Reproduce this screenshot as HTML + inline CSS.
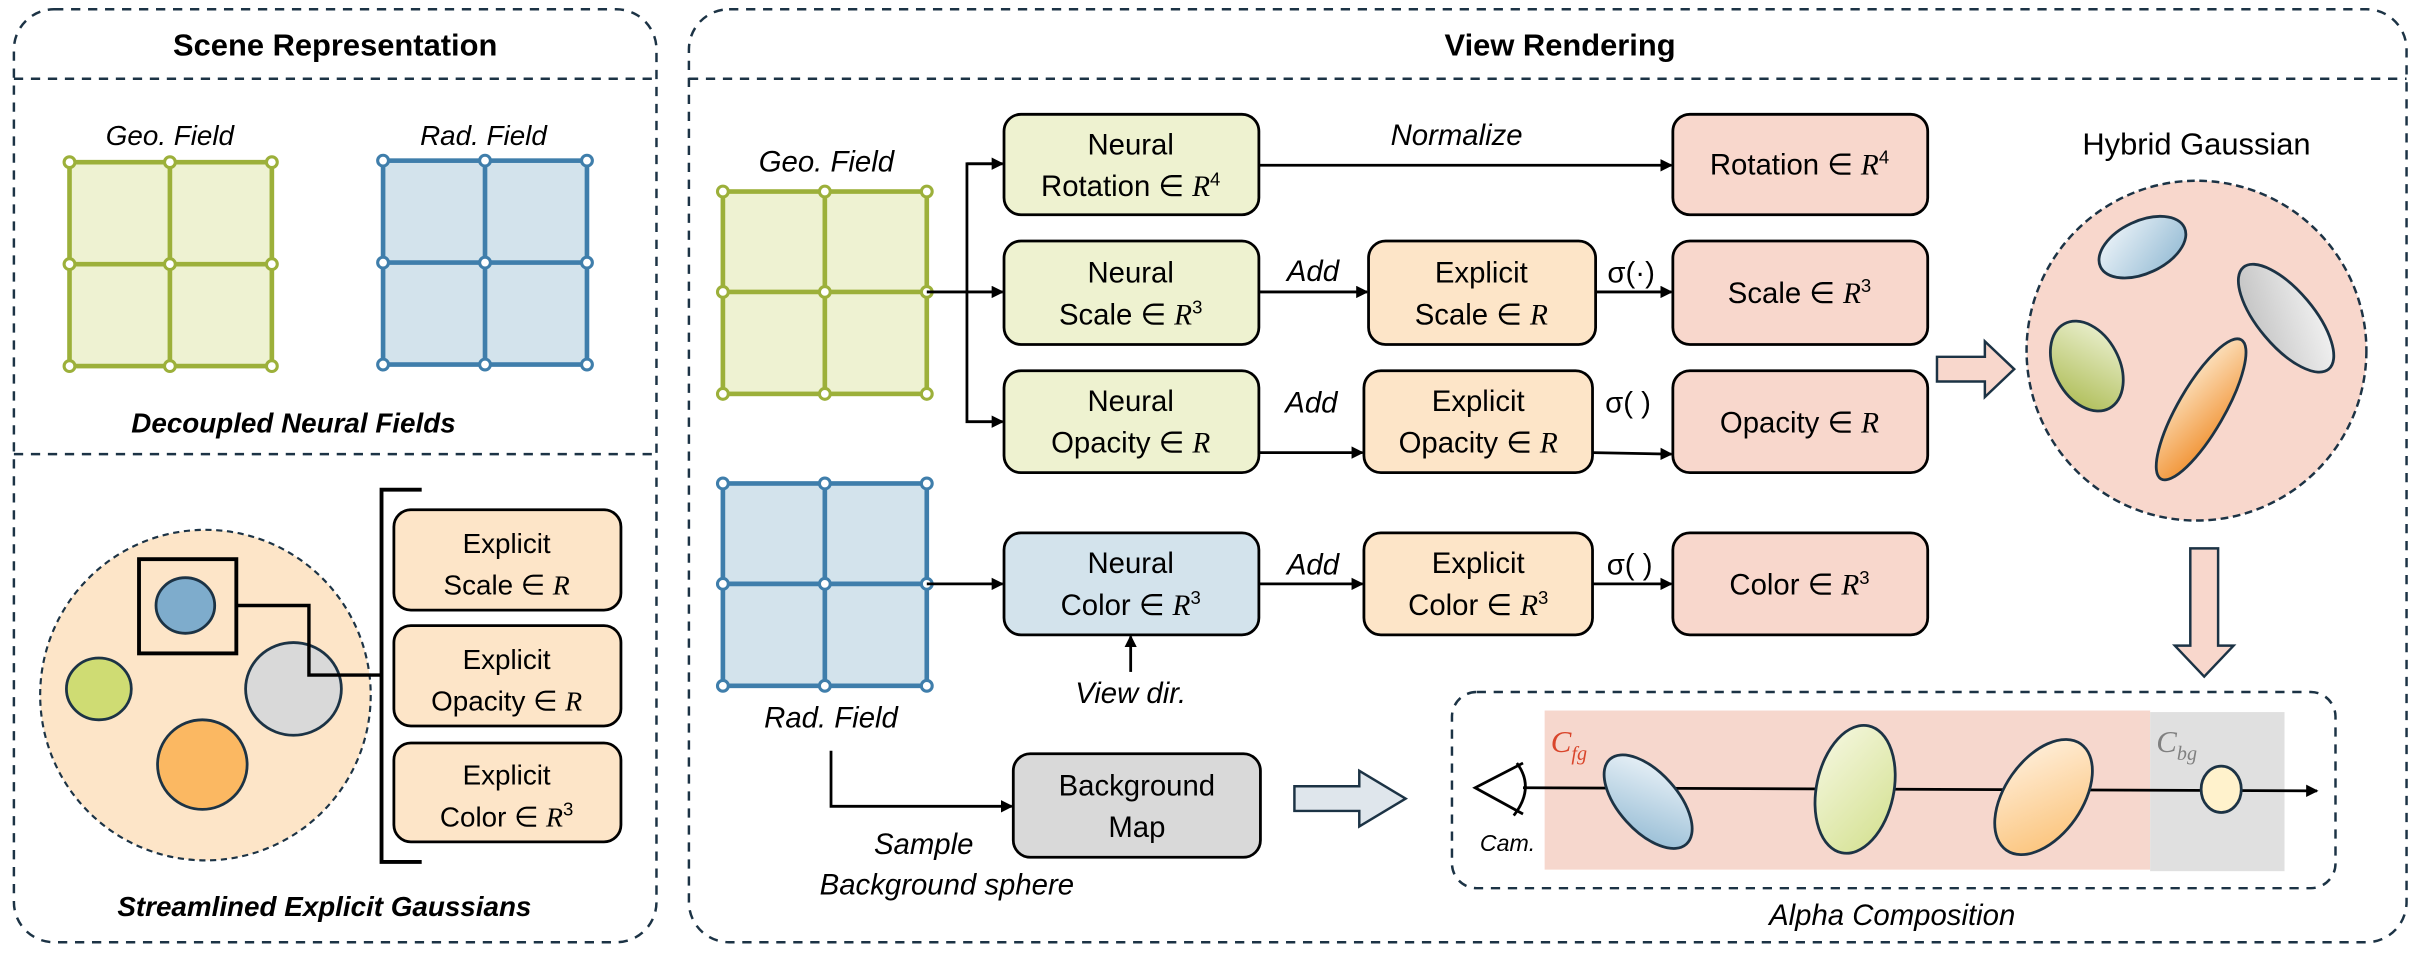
<!DOCTYPE html>
<html><head><meta charset="utf-8"><style>
html,body{margin:0;padding:0;background:#fff;}
svg{display:block;}
text{font-family:"Liberation Sans",sans-serif;fill:#000;}
.n{font-family:"Liberation Sans Narrow","Liberation Sans",sans-serif;font-size:19px;text-anchor:middle;}
.i{font-style:italic;}
.m{font-family:"Liberation Serif",serif;font-style:italic;}
</style></head><body>
<svg width="2422" height="960" viewBox="0 0 1568 621.5" preserveAspectRatio="none" xmlns="http://www.w3.org/2000/svg">
<defs>
<marker id="a" markerWidth="8" markerHeight="8" refX="7" refY="4" orient="auto" markerUnits="userSpaceOnUse"><path d="M0,0 L8,4 L0,8 z" fill="#000"/></marker>
<linearGradient id="gb" x1="0" y1="0" x2="1" y2="1"><stop offset="0" stop-color="#f2f7fb"/><stop offset="1" stop-color="#8fb8d2"/></linearGradient>
<linearGradient id="gg" x1="0" y1="0" x2="1" y2="1"><stop offset="0" stop-color="#f1f5dc"/><stop offset="1" stop-color="#a8b84a"/></linearGradient>
<linearGradient id="gy" x1="1" y1="0" x2="0" y2="1"><stop offset="0" stop-color="#f8f8f8"/><stop offset="1" stop-color="#bdbdbd"/></linearGradient>
<linearGradient id="go" x1="1" y1="0" x2="0" y2="1"><stop offset="0" stop-color="#fdebd0"/><stop offset="1" stop-color="#f08a24"/></linearGradient>
<linearGradient id="gg2" x1="1" y1="0" x2="0" y2="1"><stop offset="0" stop-color="#f6f8e2"/><stop offset="1" stop-color="#d3e08e"/></linearGradient>
<linearGradient id="go2" x1="1" y1="0" x2="0" y2="1"><stop offset="0" stop-color="#fff3e4"/><stop offset="1" stop-color="#fbbf70"/></linearGradient>
</defs>

<!-- LEFT PANEL -->
<rect x="9" y="6" width="416" height="604" rx="26" fill="none" stroke="#1c3345" stroke-width="1.6" stroke-dasharray="6,5"/>
<text x="217" y="36" font-size="20" font-weight="bold" text-anchor="middle">Scene Representation</text>
<line x1="9" y1="51" x2="425" y2="51" stroke="#1c3345" stroke-width="1.6" stroke-dasharray="6,5"/>
<text x="110" y="94" font-size="18" class="i" text-anchor="middle">Geo.  Field</text>
<text x="313" y="94" font-size="18" class="i" text-anchor="middle">Rad. Field</text>
<g stroke="#9cb03a" stroke-width="3" fill="#eef2d2">
<rect x="45" y="105" width="131" height="132"/><line x1="110" y1="105" x2="110" y2="237"/><line x1="45" y1="171" x2="176" y2="171"/>
</g>
<g fill="#fff" stroke="#9cb03a" stroke-width="2">
<circle cx="45" cy="105" r="3.5"/><circle cx="110" cy="105" r="3.5"/><circle cx="176" cy="105" r="3.5"/>
<circle cx="45" cy="171" r="3.5"/><circle cx="110" cy="171" r="3.5"/><circle cx="176" cy="171" r="3.5"/>
<circle cx="45" cy="237" r="3.5"/><circle cx="110" cy="237" r="3.5"/><circle cx="176" cy="237" r="3.5"/>
</g>
<g stroke="#3f7eab" stroke-width="3" fill="#d3e3ec">
<rect x="248" y="104" width="132" height="132"/><line x1="314" y1="104" x2="314" y2="236"/><line x1="248" y1="170" x2="380" y2="170"/>
</g>
<g fill="#fff" stroke="#3f7eab" stroke-width="2">
<circle cx="248" cy="104" r="3.5"/><circle cx="314" cy="104" r="3.5"/><circle cx="380" cy="104" r="3.5"/>
<circle cx="248" cy="170" r="3.5"/><circle cx="314" cy="170" r="3.5"/><circle cx="380" cy="170" r="3.5"/>
<circle cx="248" cy="236" r="3.5"/><circle cx="314" cy="236" r="3.5"/><circle cx="380" cy="236" r="3.5"/>
</g>
<text x="190" y="280" font-size="18" font-weight="bold" class="i" text-anchor="middle">Decoupled Neural Fields</text>
<line x1="9" y1="294" x2="425" y2="294" stroke="#1c3345" stroke-width="1.6" stroke-dasharray="6,5"/>

<ellipse cx="133" cy="450" rx="107" ry="107" fill="#fde5c8" stroke="#1c3345" stroke-width="1.4" stroke-dasharray="4,3"/>
<rect x="90" y="362" width="63" height="61" fill="none" stroke="#000" stroke-width="2.5"/>
<ellipse cx="120" cy="392" rx="19" ry="18" fill="#7eaccc" stroke="#1c3345" stroke-width="1.8"/>
<ellipse cx="64" cy="446" rx="21" ry="20" fill="#cfdc73" stroke="#1c3345" stroke-width="1.8"/>
<ellipse cx="190" cy="446" rx="31" ry="30" fill="#d9d9d9" stroke="#1c3345" stroke-width="1.8"/>
<ellipse cx="131" cy="495" rx="29" ry="29" fill="#fbb862" stroke="#1c3345" stroke-width="1.8"/>
<polyline points="153,392 200,392 200,437 247,437" fill="none" stroke="#000" stroke-width="2.2"/>
<path d="M273,317 L247,317 L247,558 L273,558" fill="none" stroke="#000" stroke-width="2.5"/>
<g fill="#fde5c8" stroke="#000" stroke-width="1.8">
<rect x="255" y="330" width="147" height="65" rx="11"/>
<rect x="255" y="405" width="147" height="65" rx="11"/>
<rect x="255" y="481" width="147" height="64" rx="11"/>
</g>
<text x="328" y="358" font-size="18" text-anchor="middle">Explicit</text>
<text x="328" y="385" font-size="18" text-anchor="middle">Scale ∈ <tspan class="m">R</tspan></text>
<text x="328" y="433" font-size="18" text-anchor="middle">Explicit</text>
<text x="328" y="460" font-size="18" text-anchor="middle">Opacity ∈ <tspan class="m">R</tspan></text>
<text x="328" y="508" font-size="18" text-anchor="middle">Explicit</text>
<text x="328" y="535" font-size="18" text-anchor="middle">Color ∈ <tspan class="m">R</tspan><tspan font-size="12" dy="-7">3</tspan></text>
<text x="210" y="593" font-size="18" font-weight="bold" class="i" text-anchor="middle">Streamlined Explicit Gaussians</text>

<!-- RIGHT PANEL -->
<rect x="446" y="6" width="1112" height="604" rx="26" fill="none" stroke="#1c3345" stroke-width="1.6" stroke-dasharray="6,5"/>
<text x="1010" y="36" font-size="20" font-weight="bold" text-anchor="middle">View Rendering</text>
<line x1="446" y1="51" x2="1558" y2="51" stroke="#1c3345" stroke-width="1.6" stroke-dasharray="6,5"/>

<text x="535" y="111" class="n i">Geo.  Field</text>
<g stroke="#9cb03a" stroke-width="3" fill="#eef2d2">
<rect x="468" y="124" width="132" height="131"/><line x1="534" y1="124" x2="534" y2="255"/><line x1="468" y1="189" x2="600" y2="189"/>
</g>
<g fill="#fff" stroke="#9cb03a" stroke-width="2">
<circle cx="468" cy="124" r="3.5"/><circle cx="534" cy="124" r="3.5"/><circle cx="600" cy="124" r="3.5"/>
<circle cx="468" cy="189" r="3.5"/><circle cx="534" cy="189" r="3.5"/><circle cx="600" cy="189" r="3.5"/>
<circle cx="468" cy="255" r="3.5"/><circle cx="534" cy="255" r="3.5"/><circle cx="600" cy="255" r="3.5"/>
</g>
<g stroke="#3f7eab" stroke-width="3" fill="#d3e3ec">
<rect x="468" y="313" width="132" height="131"/><line x1="534" y1="313" x2="534" y2="444"/><line x1="468" y1="378" x2="600" y2="378"/>
</g>
<g fill="#fff" stroke="#3f7eab" stroke-width="2">
<circle cx="468" cy="313" r="3.5"/><circle cx="534" cy="313" r="3.5"/><circle cx="600" cy="313" r="3.5"/>
<circle cx="468" cy="378" r="3.5"/><circle cx="534" cy="378" r="3.5"/><circle cx="600" cy="378" r="3.5"/>
<circle cx="468" cy="444" r="3.5"/><circle cx="534" cy="444" r="3.5"/><circle cx="600" cy="444" r="3.5"/>
</g>
<text x="538" y="471" class="n i">Rad. Field</text>

<!-- connectors -->
<g stroke="#000" stroke-width="1.8" fill="none">
<line x1="600" y1="189" x2="626" y2="189"/>
<polyline points="649,106 626,106 626,273 649,273" marker-end="url(#a)"/>
<line x1="626" y1="106" x2="649" y2="106" marker-end="url(#a)"/>
<line x1="626" y1="189" x2="649" y2="189" marker-end="url(#a)"/>
<line x1="600" y1="378" x2="649" y2="378" marker-end="url(#a)"/>
<line x1="815" y1="107" x2="1082" y2="107" marker-end="url(#a)"/>
<line x1="815" y1="189" x2="885" y2="189" marker-end="url(#a)"/>
<line x1="1033" y1="189" x2="1082" y2="189" marker-end="url(#a)"/>
<line x1="815" y1="293" x2="882" y2="293" marker-end="url(#a)"/>
<line x1="1031" y1="293" x2="1082" y2="294" marker-end="url(#a)"/>
<line x1="815" y1="378" x2="882" y2="378" marker-end="url(#a)"/>
<line x1="1031" y1="378" x2="1082" y2="378" marker-end="url(#a)"/>
<line x1="732" y1="435" x2="732" y2="412" marker-end="url(#a)"/>
<polyline points="538,486 538,522 655,522" marker-end="url(#a)"/>
</g>

<!-- boxes -->
<g stroke="#000" stroke-width="1.8">
<rect x="650" y="74" width="165" height="65" rx="11" fill="#eef2d0"/>
<rect x="650" y="156" width="165" height="67" rx="11" fill="#eef2d0"/>
<rect x="650" y="240" width="165" height="66" rx="11" fill="#eef2d0"/>
<rect x="650" y="345" width="165" height="66" rx="11" fill="#d3e3ec"/>
<rect x="886" y="156" width="147" height="67" rx="11" fill="#fde5c8"/>
<rect x="883" y="240" width="148" height="66" rx="11" fill="#fde5c8"/>
<rect x="883" y="345" width="148" height="66" rx="11" fill="#fde5c8"/>
<rect x="1083" y="74" width="165" height="65" rx="11" fill="#f8d7cc"/>
<rect x="1083" y="156" width="165" height="67" rx="11" fill="#f8d7cc"/>
<rect x="1083" y="240" width="165" height="66" rx="11" fill="#f8d7cc"/>
<rect x="1083" y="345" width="165" height="66" rx="11" fill="#f8d7cc"/>
<rect x="656" y="488" width="160" height="67" rx="11" fill="#d9d9d9"/>
</g>
<text x="732" y="100" class="n">Neural</text>
<text x="732" y="127" class="n">Rotation ∈ <tspan class="m">R</tspan><tspan font-size="12" dy="-7">4</tspan></text>
<text x="732" y="183" class="n">Neural</text>
<text x="732" y="210" class="n">Scale ∈ <tspan class="m">R</tspan><tspan font-size="12" dy="-7">3</tspan></text>
<text x="732" y="266" class="n">Neural</text>
<text x="732" y="293" class="n">Opacity ∈ <tspan class="m">R</tspan></text>
<text x="732" y="371" class="n">Neural</text>
<text x="732" y="398" class="n">Color ∈ <tspan class="m">R</tspan><tspan font-size="12" dy="-7">3</tspan></text>
<text x="959" y="183" class="n">Explicit</text>
<text x="959" y="210" class="n">Scale ∈ <tspan class="m">R</tspan></text>
<text x="957" y="266" class="n">Explicit</text>
<text x="957" y="293" class="n">Opacity ∈ <tspan class="m">R</tspan></text>
<text x="957" y="371" class="n">Explicit</text>
<text x="957" y="398" class="n">Color ∈ <tspan class="m">R</tspan><tspan font-size="12" dy="-7">3</tspan></text>
<text x="1165" y="113" class="n">Rotation ∈ <tspan class="m">R</tspan><tspan font-size="12" dy="-7">4</tspan></text>
<text x="1165" y="196" class="n">Scale ∈ <tspan class="m">R</tspan><tspan font-size="12" dy="-7">3</tspan></text>
<text x="1165" y="280" class="n">Opacity ∈ <tspan class="m">R</tspan></text>
<text x="1165" y="385" class="n">Color ∈ <tspan class="m">R</tspan><tspan font-size="12" dy="-7">3</tspan></text>
<text x="736" y="515" class="n">Background</text>
<text x="736" y="542" class="n">Map</text>

<text x="943" y="94" class="n i">Normalize</text>
<text x="850" y="182" class="n i">Add</text>
<text x="849" y="267" class="n i">Add</text>
<text x="850" y="372" class="n i">Add</text>
<text x="1056" y="183" class="n">σ(·)</text>
<text x="1054" y="267" class="n">σ( )</text>
<text x="1055" y="372" class="n">σ( )</text>
<text x="732" y="455" class="n i">View dir.</text>
<text x="598" y="553" class="n i">Sample</text>
<text x="613" y="579" class="n i">Background sphere</text>

<!-- hybrid gaussian -->
<text x="1422" y="100" font-size="20" text-anchor="middle">Hybrid Gaussian</text>
<circle cx="1422" cy="227" r="110" fill="#f8d7cc" stroke="#1c3345" stroke-width="1.6" stroke-dasharray="5,3"/>
<g stroke="#1c3345" stroke-width="1.8">
<ellipse cx="1387" cy="160" rx="30" ry="17" transform="rotate(-25 1387 160)" fill="url(#gb)"/>
<ellipse cx="1480" cy="206" rx="43" ry="18" transform="rotate(50 1480 206)" fill="url(#gy)"/>
<ellipse cx="1351" cy="237" rx="31" ry="21" transform="rotate(62 1351 237)" fill="url(#gg)"/>
<ellipse cx="1425" cy="265" rx="52" ry="15" transform="rotate(-60 1425 265)" fill="url(#go)"/>
</g>
<path d="M1254,231 L1285,231 L1285,221 L1304,239 L1285,257 L1285,247 L1254,247 z" fill="#f8d7cc" stroke="#1c3345" stroke-width="1.6"/>
<path d="M1418,355 L1436,355 L1436,418 L1446,418 L1427,438 L1408,418 L1418,418 z" fill="#f8d7cc" stroke="#1c3345" stroke-width="1.6"/>
<path d="M838,509 L880,509 L880,499 L910,517 L880,535 L880,525 L838,525 z" fill="#dfe6ec" stroke="#1c3345" stroke-width="1.6"/>

<!-- alpha composition -->
<rect x="940" y="448" width="572" height="127" rx="16" fill="none" stroke="#1c3345" stroke-width="1.6" stroke-dasharray="6,5"/>
<rect x="1000" y="460" width="392" height="103" fill="#f6d7cd"/>
<rect x="1392" y="461" width="87" height="103" fill="#e0e0e0"/>
<text x="1004" y="487" font-size="20" class="m" style="fill:#d9452b">C<tspan font-size="13" dy="5">fg</tspan></text>
<text x="1396" y="487" font-size="20" class="m" style="fill:#808080">C<tspan font-size="13" dy="5">bg</tspan></text>
<line x1="986" y1="510" x2="1500" y2="512" stroke="#000" stroke-width="1.8" marker-end="url(#a)"/>
<path d="M986,494 L955,510 L986,527" fill="none" stroke="#000" stroke-width="1.8"/>
<path d="M982,494 Q994,510 980,528" fill="none" stroke="#000" stroke-width="1.8"/>
<text x="976" y="551" font-size="15" class="n i" style="font-size:15px">Cam.</text>
<g stroke="#1c3345" stroke-width="1.8">
<ellipse cx="1067" cy="519" rx="37" ry="19" transform="rotate(48 1067 519)" fill="url(#gb)"/>
<ellipse cx="1201" cy="511" rx="42" ry="25" transform="rotate(-78 1201 511)" fill="url(#gg2)"/>
<ellipse cx="1323" cy="516" rx="42" ry="25" transform="rotate(-55 1323 516)" fill="url(#go2)"/>
<ellipse cx="1438" cy="511" rx="13" ry="15" fill="#fff2cc"/>
</g>
<text x="1225" y="599" class="n i">Alpha Composition</text>
</svg>
</body></html>
